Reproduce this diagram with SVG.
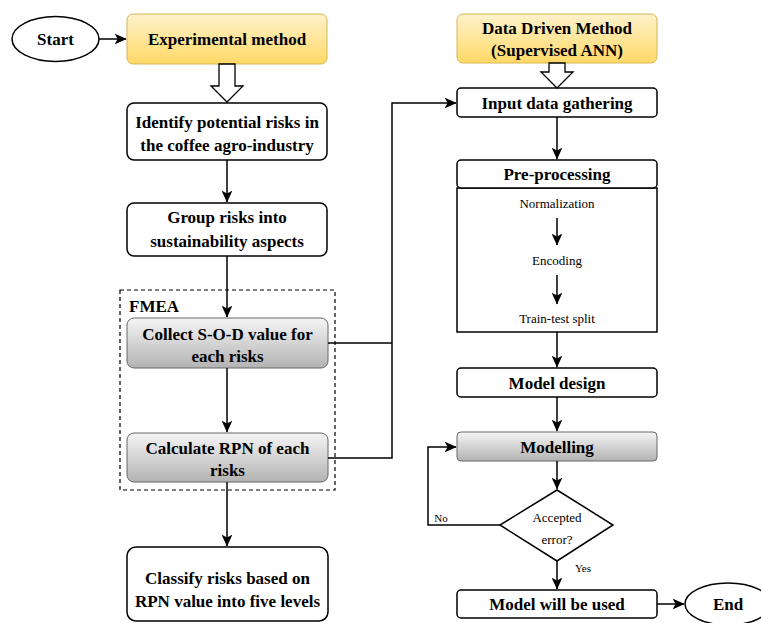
<svg xmlns="http://www.w3.org/2000/svg" width="761" height="623" viewBox="0 0 761 623">
<defs>
<linearGradient id="gy" x1="0" y1="0" x2="0" y2="1"><stop offset="0" stop-color="#fff2cc"/><stop offset="1" stop-color="#ffd966"/></linearGradient>
<linearGradient id="gg" x1="0" y1="0" x2="0" y2="1"><stop offset="0" stop-color="#f5f5f5"/><stop offset="1" stop-color="#b3b3b3"/></linearGradient>
<marker id="ah" viewBox="0 0 10 10" refX="9.5" refY="5" markerWidth="12" markerHeight="12" markerUnits="userSpaceOnUse" orient="auto">
<path d="M0,0.5 L10,5 L0,9.5 L2.5,5 z" fill="#000"/>
</marker>
</defs>
<style>
.b{fill:#fff;stroke:#000;stroke-width:1.5}
.y{fill:url(#gy);stroke:#d6b656;stroke-width:1}
.g{fill:url(#gg);stroke:#666;stroke-width:1}
.t{font-family:'Liberation Serif','Times New Roman',serif;font-weight:bold;font-size:17px;fill:#000;text-anchor:middle}
.s{font-family:'Liberation Serif','Times New Roman',serif;font-size:13px;fill:#000;text-anchor:middle}
.c{fill:none;stroke:#000;stroke-width:1.5}
.h{fill:#fff;stroke:#000;stroke-width:1.3}
</style>
<rect width="761" height="623" fill="#fff"/>
<g id="start"><ellipse class="b" cx="55.5" cy="39" rx="43.5" ry="22.5"/><text class="t" x="55.5" y="45">Start</text></g>
<g id="experimental"><rect class="y" x="127" y="14" width="200" height="50" rx="6"/><text class="t" x="227" y="45">Experimental method</text></g>
<g id="identify"><rect class="b" x="127" y="103" width="200" height="57" rx="7"/><text class="t" x="227" y="128">Identify potential risks in</text><text class="t" x="227" y="151">the coffee agro-industry</text></g>
<g id="group"><rect class="b" x="127" y="203" width="200" height="53" rx="7"/><text class="t" x="227" y="223">Group risks into</text><text class="t" x="227" y="247">sustainability aspects</text></g>
<g id="fmea"><rect x="120" y="290" width="215" height="200" fill="none" stroke="#000" stroke-width="1.2" stroke-dasharray="4,3"/><text class="t" x="129" y="312" style="text-anchor:start">FMEA</text></g>
<g id="collect"><rect class="g" x="127" y="318" width="201" height="50" rx="7"/><text class="t" x="227.5" y="340">Collect S-O-D value for</text><text class="t" x="227.5" y="362">each risks</text></g>
<g id="calculate"><rect class="g" x="127" y="433" width="201" height="49" rx="7"/><text class="t" x="227.5" y="454">Calculate RPN of each</text><text class="t" x="227.5" y="476">risks</text></g>
<g id="classify"><rect class="b" x="127" y="547" width="201" height="74" rx="9"/><text class="t" x="227.5" y="583.5">Classify risks based on</text><text class="t" x="227.5" y="606.5">RPN value into five levels</text></g>
<g id="datadriven"><rect class="y" x="457" y="14" width="200" height="49" rx="6"/><text class="t" x="557" y="34">Data Driven Method</text><text class="t" x="557" y="56">(Supervised ANN)</text></g>
<g id="input"><rect class="b" x="457" y="88" width="200" height="29" rx="4"/><text class="t" x="557" y="109">Input data gathering</text></g>
<g id="preprocessing"><rect class="b" x="457" y="188" width="200" height="144"/><rect class="b" x="457" y="160" width="200" height="28" rx="4"/><text class="t" x="557" y="180">Pre-processing</text>
<text class="s" x="557" y="207.5">Normalization</text><text class="s" x="557" y="264.5">Encoding</text><text class="s" x="557" y="322.5">Train-test split</text></g>
<g id="modeldesign"><rect class="b" x="457" y="368" width="200" height="29" rx="4"/><text class="t" x="557" y="388.5">Model design</text></g>
<g id="modelling"><rect class="g" x="457" y="432" width="200" height="29" rx="4"/><text class="t" x="557" y="453">Modelling</text></g>
<g id="decision"><polygon class="b" points="557,490 613,525 557,561 500,525"/><text class="s" x="557" y="521.5">Accepted</text><text class="s" x="557" y="543.5">error?</text></g>
<g id="used"><rect class="b" x="457" y="590" width="200" height="28" rx="4"/><text class="t" x="557" y="610">Model will be used</text></g>
<g id="end"><ellipse class="b" cx="728" cy="604" rx="43" ry="21"/><text class="t" x="728" y="610">End</text></g>
<g id="connectors">
<line class="c" x1="99" y1="39" x2="126" y2="39" marker-end="url(#ah)"/>
<path class="h" d="M219,64 L235,64 L235,86 L243,86 L227,102 L211,86 L219,86 z"/>
<line class="c" x1="227" y1="160" x2="227" y2="202" marker-end="url(#ah)"/>
<line class="c" x1="227" y1="256" x2="227" y2="317" marker-end="url(#ah)"/>
<line class="c" x1="227" y1="368" x2="227" y2="432" marker-end="url(#ah)"/>
<line class="c" x1="227" y1="482" x2="227" y2="546" marker-end="url(#ah)"/>
<path class="c" d="M328,343 L392,343"/>
<path class="c" d="M328,458 L392,458 L392,103 L456,103" marker-end="url(#ah)"/>
<path class="h" d="M549,63 L565,63 L565,72 L573,72 L557,88 L541,72 L549,72 z"/>
<line class="c" x1="557" y1="117" x2="557" y2="159" marker-end="url(#ah)"/>
<line class="c" x1="557" y1="218" x2="557" y2="245" marker-end="url(#ah)"/>
<line class="c" x1="557" y1="275" x2="557" y2="304" marker-end="url(#ah)"/>
<line class="c" x1="557" y1="332" x2="557" y2="367" marker-end="url(#ah)"/>
<line class="c" x1="557" y1="397" x2="557" y2="431" marker-end="url(#ah)"/>
<line class="c" x1="557" y1="461" x2="557" y2="489" marker-end="url(#ah)"/>
<path class="c" d="M500,525 L428,525 L428,447 L456,447" marker-end="url(#ah)"/>
<line class="c" x1="557" y1="561" x2="557" y2="589" marker-end="url(#ah)"/>
<line class="c" x1="657" y1="604" x2="684" y2="604" marker-end="url(#ah)"/>
<text class="s" x="441" y="522" style="font-size:11px">No</text>
<text class="s" x="583" y="572" style="font-size:11px">Yes</text>
</g>
</svg>
